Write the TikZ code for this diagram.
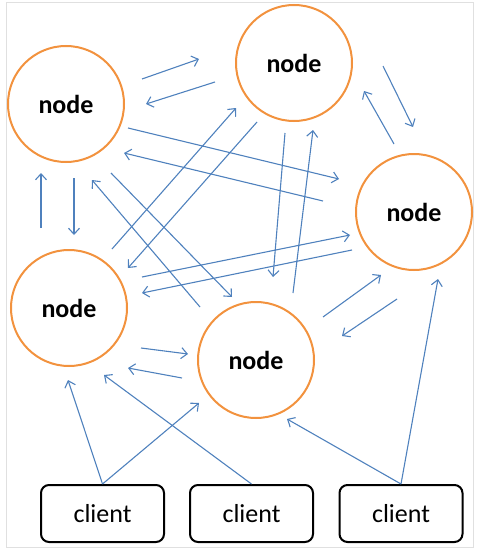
\documentclass[tikz,border=0pt]{standalone}
\usepackage{fontspec}
\setmainfont{Carlito}
\usetikzlibrary{arrows.meta}

\definecolor{ringorange}{RGB}{242,146,62}
\definecolor{linkblue}{RGB}{79,129,189}

\tikzset{
  peer/.style={circle,draw=ringorange,line width=2pt,minimum size=116pt,inner sep=0pt,
    font=\fontsize{26}{30}\selectfont\bfseries},
  client/.style={rectangle,rounded corners=8pt,draw=black,line width=2pt,
    minimum width=123pt,minimum height=57pt,font=\fontsize{26}{30}\selectfont},
  link/.style={linkblue,line width=1.1pt,-{Straight Barb[length=6pt,width=11pt]}}
}

\begin{document}
\begin{tikzpicture}[x=1pt,y=-1pt]
    \useasboundingbox (0,0) rectangle (477,551);
    \draw[black!12,line width=1pt] (6,3) rectangle (473,547);

    % Nodes
    \node[peer] (A) at (66,104) {node};
    \node[peer] (B) at (294,63) {node};
    \node[peer] (C) at (414,212) {node};
    \node[peer] (D) at (69,308) {node};
    \node[peer] (E) at (256,360) {node};

    % Clients
    \node[client] (K1) at (102.5,513.5) {client};
    \node[client] (K2) at (251.5,513.5) {client};
    \node[client] (K3) at (401,513.5) {client};

    % Links between nodes (offsets from the centres)
    \foreach \s/\sx/\sy/\t/\tx/\ty in {
        A/76/-25/B/-95/-4,    B/-79/19/A/80/0,
        B/89/3/C/-1/-85,      C/-20/-68/B/70/28,
        A/62/24/C/-75/-33,    C/-91/-11/A/58/49,
        D/-28/-80/A/-25/69,   A/8/74/D/5/-73,
        D/43/-59/B/-58/45,    B/-37/59/D/59/-40,
        A/45/69/E/-24/-63,    E/-56/-53/A/26/76,
        B/-9/70/E/17/-83,     E/37/-67/B/19/67,
        D/73/-31/C/-64/23,    C/-62/38/D/73/-15,
        E/67/-43/C/-33/63,    C/-17/87/E/86/-24,
        D/72/40/E/-68/-6,     E/-74/18/D/59/60}
        \draw[link] ([shift={(\sx,\sy)}]\s.center) -- ([shift={(\tx,\ty)}]\t.center);

    % Client requests
    \draw[link] (K1.north) -- ([shift={(-1,72)}]D.center);
    \draw[link] (K1.north) -- ([shift={(-57,43)}]E.center);
    \draw[link] (K2.north) -- ([shift={(35,67)}]D.center);
    \draw[link] (K3.north) -- ([shift={(31,59)}]E.center);
    \draw[link] (K3.north) -- ([shift={(24,67)}]C.center);
\end{tikzpicture}
\end{document}
